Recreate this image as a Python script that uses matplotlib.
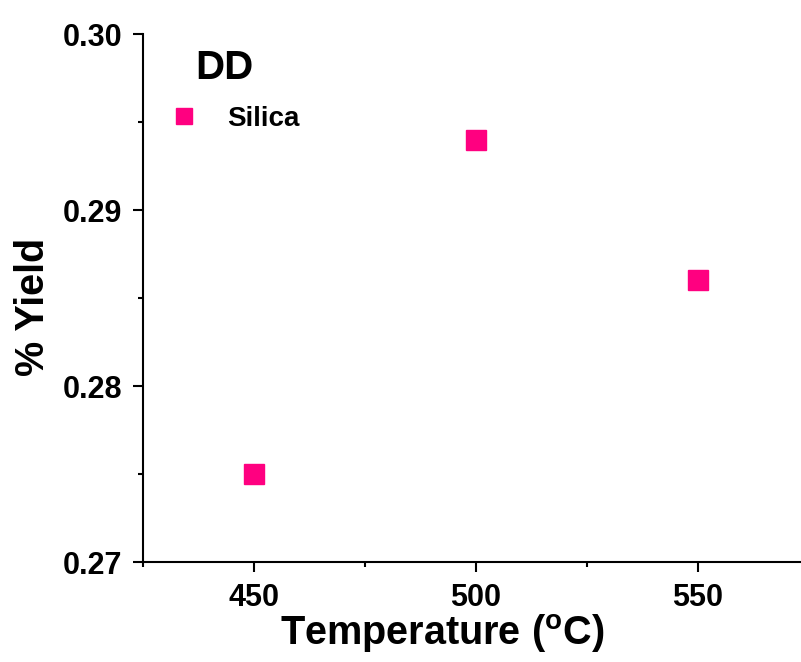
import matplotlib.pyplot as plt
from matplotlib.ticker import MultipleLocator

plt.rcParams['font.family'] = 'Liberation Sans'
plt.rcParams['font.weight'] = 'bold'
plt.rcParams['mathtext.fontset'] = 'custom'
plt.rcParams['mathtext.rm'] = 'Liberation Sans'
plt.rcParams['mathtext.bf'] = 'Liberation Sans:bold'
plt.rcParams['figure.dpi'] = 100

temperature = [450, 500, 550]
yield_silica = [0.275, 0.294, 0.286]
series_label = "Silica"
panel_title = "DD"

fig = plt.figure(figsize=(8.01, 6.62))
# axis runs past the right edge of the figure, as in the original
ax = fig.add_axes([143 / 801, 100 / 662, 666 / 801, 528 / 662])

ax.plot(temperature, yield_silica, linestyle='none', marker='s', markersize=14.5,
        color='#FF0080', label=series_label)

ax.set_xlim(425, 575)
ax.set_ylim(0.27, 0.30)
ax.xaxis.set_major_locator(MultipleLocator(50))
ax.xaxis.set_minor_locator(MultipleLocator(25))
ax.yaxis.set_major_locator(MultipleLocator(0.01))
ax.yaxis.set_minor_locator(MultipleLocator(0.005))
ax.yaxis.set_major_formatter(plt.FormatStrFormatter('%.2f'))

ax.spines['top'].set_visible(False)
ax.spines['right'].set_visible(False)
for s in ('left', 'bottom'):
    ax.spines[s].set_linewidth(1.5)
ax.tick_params(which='major', direction='out', length=7.2, width=1.5,
               labelsize=22, pad=8)
ax.tick_params(which='minor', direction='out', length=3.6, width=1.5)

fig.text(33 / 801, 1 - 307 / 662, "% Yield", rotation=90, ha='center', va='center',
         fontsize=28.5, fontweight='bold')
fig.text(442 / 801, 1 - 645 / 662, r"Temperature ($^{\mathbf{o}}$C)", ha='center',
         va='baseline', fontsize=28.5, fontweight='bold')
fig.text(224 / 801, 1 - 79 / 662, panel_title, ha='center', va='baseline',
         fontsize=29, fontweight='bold')

ax.legend(loc='center left', bbox_to_anchor=(163 / 801, 1 - 119 / 662),
          bbox_transform=fig.transFigure, frameon=False, fontsize=20,
          handlelength=1.5, handletextpad=0.8, borderpad=0, borderaxespad=0,
          markerscale=0.8)

fig.savefig("out.png", dpi=100)
